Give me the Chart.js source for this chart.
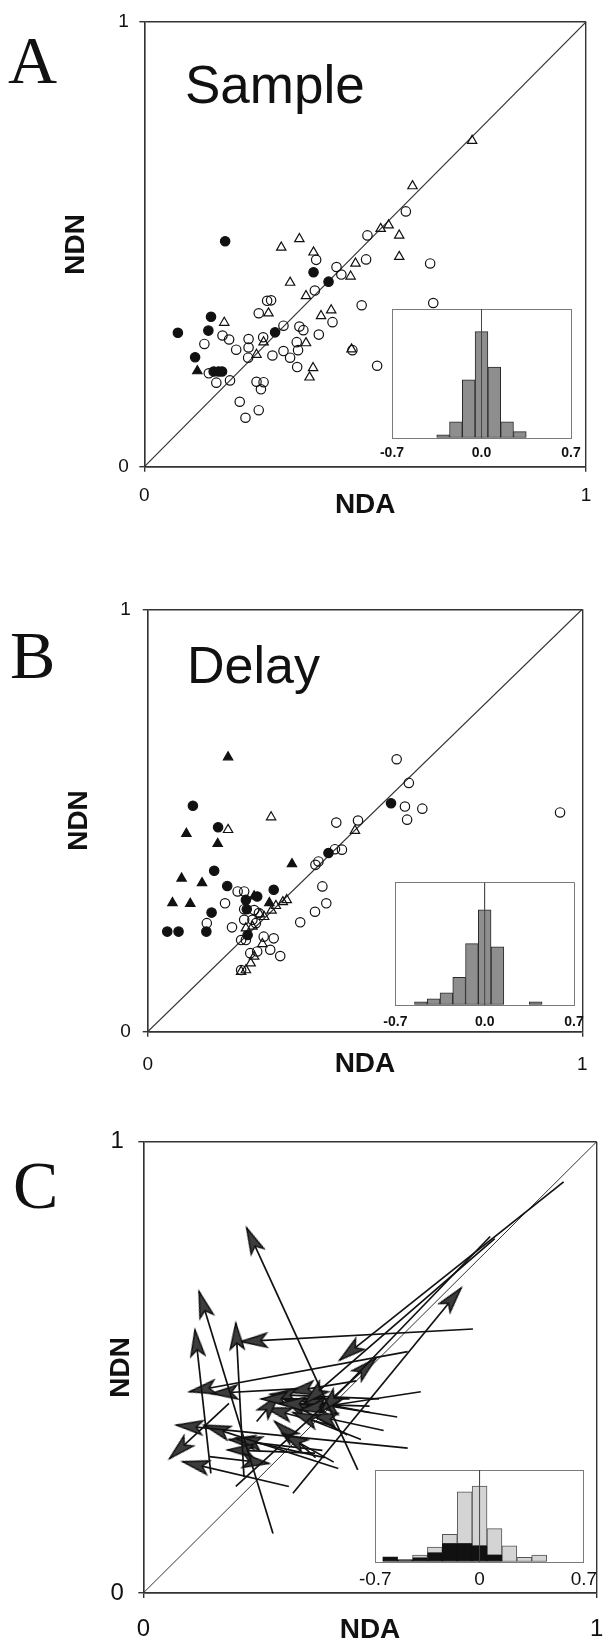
<!DOCTYPE html>
<html>
<head>
<meta charset="utf-8">
<script src="https://cdn.jsdelivr.net/npm/chart.js@4.4.1/dist/chart.umd.min.js"></script>
<style>
html,body{margin:0;padding:0;background:#fff;width:604px;height:1644px;overflow:hidden;position:relative}
canvas{position:absolute;display:block}
.letter{position:absolute;font-family:"Liberation Serif","Times New Roman",serif;font-size:68px;line-height:68px;color:#111;z-index:5;white-space:nowrap}
.phase{position:absolute;font-family:"Liberation Sans",Arial,sans-serif;line-height:1;color:#111;z-index:5;white-space:nowrap}
</style>
</head>
<body>
<canvas id="mainA" width="604" height="540" style="left:0;top:0"></canvas>
<canvas id="insetA" width="220" height="169" style="left:372px;top:299px"></canvas>
<canvas id="mainB" width="604" height="520" style="left:0;top:580px"></canvas>
<canvas id="insetB" width="220" height="163" style="left:375px;top:872px"></canvas>
<canvas id="mainC" width="620" height="544" style="left:0;top:1100px"></canvas>
<canvas id="insetC" width="250" height="132" style="left:353px;top:1460px"></canvas>
<div class="letter" style="left:8px;top:26px">A</div>
<div class="phase" style="left:185px;top:58px;font-size:53px">Sample</div>
<div class="letter" style="left:10px;top:621px">B</div>
<div class="phase" style="left:187px;top:639px;font-size:52px">Delay</div>
<div class="letter" style="left:13px;top:1151px">C</div>
<script>
const FONT = '"Liberation Sans", Arial, Helvetica, sans-serif';
const axisTicks = [0, 1];
const insetTicks = [-0.7, 0, 0.7];

// ---- Panel A : Sample (NDA, NDN) ----
const sampleOpenCircles = [[0.592,0.574],[0.505,0.520],[0.502,0.466],[0.435,0.449],[0.446,0.432],[0.389,0.465],[0.647,0.457],[0.654,0.368],[0.492,0.363],[0.386,0.396],[0.278,0.373],[0.287,0.374],[0.259,0.345],[0.315,0.317],[0.351,0.315],[0.360,0.307],[0.395,0.297],[0.426,0.325],[0.269,0.291],[0.236,0.287],[0.236,0.268],[0.177,0.295],[0.192,0.286],[0.136,0.276],[0.208,0.263],[0.235,0.245],[0.290,0.250],[0.315,0.260],[0.330,0.245],[0.345,0.280],[0.348,0.262],[0.346,0.224],[0.471,0.262],[0.527,0.227],[0.146,0.210],[0.163,0.189],[0.194,0.194],[0.254,0.191],[0.270,0.190],[0.264,0.174],[0.216,0.146],[0.259,0.127],[0.229,0.110]];
const sampleFilledCircles = [[0.183,0.507],[0.383,0.437],[0.417,0.416],[0.151,0.337],[0.145,0.306],[0.076,0.301],[0.115,0.246],[0.157,0.214],[0.168,0.214],[0.176,0.214],[0.296,0.302]];
const sampleOpenTriangles = [[0.742,0.733],[0.607,0.631],[0.535,0.535],[0.553,0.543],[0.577,0.520],[0.577,0.472],[0.351,0.512],[0.310,0.493],[0.383,0.482],[0.478,0.457],[0.467,0.428],[0.330,0.414],[0.366,0.384],[0.281,0.345],[0.181,0.324],[0.400,0.339],[0.423,0.352],[0.270,0.280],[0.254,0.252],[0.366,0.278],[0.469,0.264],[0.382,0.222],[0.374,0.201]];
const sampleFilledTriangles = [[0.120,0.215]];
const sampleBins = [-0.3,-0.2,-0.1,0,0.1,0.2,0.3];
const sampleCounts = [1,5,18,33,22,5,2];

// ---- Panel B : Delay ----
const delayOpenCircles = [[0.573,0.645],[0.601,0.589],[0.592,0.533],[0.632,0.528],[0.597,0.502],[0.949,0.519],[0.434,0.495],[0.484,0.500],[0.431,0.432],[0.447,0.431],[0.386,0.395],[0.393,0.403],[0.402,0.344],[0.411,0.304],[0.385,0.284],[0.351,0.259],[0.207,0.332],[0.222,0.332],[0.178,0.304],[0.136,0.257],[0.194,0.247],[0.222,0.290],[0.245,0.288],[0.256,0.281],[0.222,0.265],[0.241,0.265],[0.249,0.257],[0.215,0.217],[0.226,0.217],[0.267,0.225],[0.290,0.221],[0.282,0.194],[0.305,0.179],[0.236,0.186],[0.252,0.190],[0.215,0.146]];
const delayFilledCircles = [[0.104,0.535],[0.162,0.484],[0.153,0.381],[0.183,0.345],[0.290,0.336],[0.226,0.312],[0.252,0.320],[0.228,0.290],[0.147,0.282],[0.230,0.229],[0.045,0.237],[0.071,0.237],[0.135,0.237],[0.560,0.541],[0.416,0.423]];
const delayOpenTriangles = [[0.284,0.508],[0.185,0.478],[0.477,0.476],[0.320,0.312],[0.311,0.307],[0.295,0.298],[0.285,0.287],[0.268,0.272],[0.258,0.278],[0.241,0.249],[0.226,0.245],[0.264,0.208],[0.245,0.178],[0.237,0.162],[0.226,0.146],[0.215,0.142]];
const delayFilledTriangles = [[0.185,0.650],[0.089,0.469],[0.161,0.445],[0.332,0.397],[0.078,0.363],[0.125,0.352],[0.057,0.305],[0.098,0.303],[0.245,0.321],[0.280,0.305]];
const delayBins = [-0.5,-0.4,-0.3,-0.2,-0.1,0,0.1,0.4];
const delayCounts = [1,2,4,9,20,31,19,1];

// ---- Panel C : change from sample to delay (arrow tail -> head) ----
const arrowTailX = [0.473,0.286,0.149,0.222,0.727,0.927,0.765,0.775,0.330,0.204,0.583,0.612,0.499,0.583,0.430,0.321,0.189,0.146,0.379,0.342,0.400,0.420,0.480,0.455,0.380,0.530,0.395,0.250,0.500,0.560,0.450,0.520,0.420,0.470];
const arrowTailY = [0.273,0.132,0.265,0.257,0.585,0.911,0.790,0.785,0.221,0.236,0.535,0.446,0.414,0.321,0.276,0.236,0.420,0.302,0.310,0.453,0.300,0.290,0.340,0.430,0.300,0.360,0.316,0.380,0.400,0.390,0.350,0.430,0.370,0.470];
const arrowHeadX = [0.228,0.123,0.114,0.204,0.215,0.433,0.390,0.355,0.701,0.513,0.102,0.345,0.300,0.073,0.134,0.087,0.058,0.277,0.186,0.150,0.204,0.306,0.330,0.260,0.290,0.370,0.189,0.300,0.340,0.375,0.310,0.280,0.270,0.320];
const arrowHeadY = [0.809,0.668,0.583,0.598,0.557,0.516,0.400,0.420,0.676,0.520,0.446,0.405,0.420,0.372,0.372,0.291,0.298,0.287,0.317,0.442,0.343,0.354,0.400,0.430,0.380,0.395,0.340,0.440,0.430,0.420,0.430,0.440,0.410,0.445];
const changeBins  = [-0.6,-0.5,-0.4,-0.3,-0.2,-0.1,0,0.1,0.2,0.3,0.4];
const changeBlack = [2.2,1.1,1.75,4,8,8,7,3,0,0,0];
const changeGray  = [0,0,1.25,2.5,4,22.5,26,11.5,7,2,3];

// ---------- helpers ----------
const toPts = arr => arr.map(([x, y]) => ({x, y}));

function markers(pts, style, filled) {
  return {
    type: 'scatter', data: toPts(pts), showLine: false, order: 1,
    pointStyle: style,
    pointRadius: style === 'triangle' ? 5.4 : 4.7,
    pointBorderWidth: 1.2,
    pointBorderColor: '#111',
    pointBackgroundColor: filled ? '#111' : 'rgba(255,255,255,0)'
  };
}

function mainChart(id, g, datasets) {
  return new Chart(document.getElementById(id), {
    type: 'scatter',
    data: {datasets: [
      {type: 'line', data: [{x: 0, y: 0}, {x: 1, y: 1}], borderColor: '#333', borderWidth: g.diag, pointRadius: 0, fill: false, order: 10},
      ...datasets
    ]},
    options: {
      responsive: false, animation: false, devicePixelRatio: 1, events: [],
      layout: {padding: g.pad},
      plugins: {legend: {display: false}, tooltip: {enabled: false}},
      scales: {
        x: {
          type: 'linear', min: 0, max: 1,
          afterBuildTicks: s => { s.ticks = axisTicks.map(v => ({value: v})); },
          afterFit: s => { s.height = g.xh; },
          grid: {color: '#333', lineWidth: 1.4, tickLength: 5, tickColor: '#333', tickWidth: 1.4},
          border: {display: true, color: '#333', width: 1.4},
          ticks: {autoSkip: false, maxRotation: 0, padding: g.xtp, color: '#111', font: {family: FONT, size: g.ts}, callback: v => String(v)},
          title: {display: true, text: 'NDA', color: '#111', font: {family: FONT, size: 28, weight: 'bold', lineHeight: 1}, padding: {top: 0, bottom: 0}}
        },
        y: {
          type: 'linear', min: 0, max: 1,
          afterBuildTicks: s => { s.ticks = axisTicks.map(v => ({value: v})); },
          afterFit: s => { s.width = g.yw; },
          grid: {color: '#333', lineWidth: 1.4, tickLength: 5, tickColor: '#333', tickWidth: 1.4},
          border: {display: true, color: '#333', width: 1.4},
          ticks: {autoSkip: false, padding: g.ytp, color: '#111', font: {family: FONT, size: g.ts}, callback: v => String(v)},
          title: {display: true, text: 'NDN', color: '#111', font: {family: FONT, size: 28, weight: 'bold', lineHeight: 1}, padding: {top: g.ttp, bottom: 0}}
        }
      }
    }
  });
}

function insetChart(id, g, barSets, fmt) {
  return new Chart(document.getElementById(id), {
    type: 'bar',
    data: {datasets: [
      {type: 'line', data: [{x: 0, y: 0}, {x: 0, y: 40}], borderColor: '#444', borderWidth: 1, pointRadius: 0, fill: false, order: 0},
      ...barSets
    ]},
    options: {
      responsive: false, animation: false, devicePixelRatio: 1, events: [],
      layout: {padding: g.pad},
      plugins: {legend: {display: false}, tooltip: {enabled: false}},
      scales: {
        x: {
          type: 'linear', min: -0.7, max: 0.7, offset: false, stacked: true,
          afterBuildTicks: s => { s.ticks = insetTicks.map(v => ({value: v})); },
          afterFit: s => { s.height = 30; },
          grid: {offset: false, drawTicks: false, color: '#7a7a7a', lineWidth: 1},
          border: {display: true, color: '#7a7a7a', width: 1},
          ticks: {autoSkip: false, maxRotation: 0, padding: g.tp, color: '#111', font: {family: FONT, size: g.fs, weight: g.fw}, callback: fmt}
        },
        y: {
          type: 'linear', min: 0, max: 40, stacked: true,
          afterBuildTicks: s => { s.ticks = [{value: 0}, {value: 40}]; },
          afterFit: s => { s.width = 0; },
          grid: {drawTicks: false, color: '#7a7a7a', lineWidth: 1},
          border: {display: true, color: '#7a7a7a', width: 1},
          ticks: {display: false}
        }
      }
    }
  });
}

function bars(bins, vals, fill, stroke) {
  const d = [];
  bins.forEach((b, i) => { if (vals[i] > 0) d.push({x: b, y: vals[i]}); });
  return {type: 'bar', data: d, backgroundColor: fill, borderColor: stroke, borderWidth: 1, borderSkipped: false, barPercentage: 1, categoryPercentage: 1, order: 1};
}

function makeDart() {
  const c = document.createElement('canvas');
  c.width = 56; c.height = 56;
  const g = c.getContext('2d');
  g.beginPath();
  g.moveTo(28, 28); g.lineTo(35, 54); g.lineTo(28, 48); g.lineTo(21, 54); g.closePath();
  g.fillStyle = '#3c3c3c'; g.fill();
  g.lineWidth = 1.4; g.strokeStyle = '#0d0d0d'; g.lineJoin = 'miter'; g.stroke();
  return c;
}
const dart = makeDart();

function arrowSets() {
  return arrowTailX.map((tx, i) => ({
    type: 'scatter', showLine: true, order: 1,
    data: [{x: tx, y: arrowTailY[i]}, {x: arrowHeadX[i], y: arrowHeadY[i]}],
    borderColor: '#111', borderWidth: 1.7, fill: false,
    pointStyle: dart,
    pointRadius: c => c.dataIndex === 1 ? 8 : 0,
    pointRotation: c => {
      const d = c.dataset.data, xs = c.chart.scales.x, ys = c.chart.scales.y;
      const dx = xs.getPixelForValue(d[1].x) - xs.getPixelForValue(d[0].x);
      const dy = ys.getPixelForValue(d[1].y) - ys.getPixelForValue(d[0].y);
      return Math.atan2(dx, -dy) * 180 / Math.PI;
    }
  }));
}

// ---------- Panel A ----------
mainChart('mainA', {pad: {left: 0, top: 19.3, right: 13, bottom: 20.3}, yw: 144.3, xh: 53, xtp: 12.6, ytp: 10.5, ttp: 62.5, ts: 19, diag: 1.2}, [
  markers(sampleFilledCircles, 'circle', true),
  markers(sampleFilledTriangles, 'triangle', true),
  markers(sampleOpenCircles, 'circle', false),
  markers(sampleOpenTriangles, 'triangle', false)
]);
insetChart('insetA', {pad: {left: 20, top: 10, right: 21, bottom: 0}, tp: 6.6, fs: 14, fw: 'bold'},
  [bars(sampleBins, sampleCounts, '#8e8e8e', '#2a2a2a')], v => v.toFixed(1));

// ---------- Panel B ----------
mainChart('mainB', {pad: {left: 0, top: 29.3, right: 11.3, bottom: 21.3}, yw: 147.7, xh: 47, xtp: 16.5, ytp: 12, ttp: 65.5, ts: 19, diag: 1.2}, [
  markers(delayFilledCircles, 'circle', true),
  markers(delayFilledTriangles, 'triangle', true),
  markers(delayOpenCircles, 'circle', false),
  markers(delayOpenTriangles, 'triangle', false)
]);
insetChart('insetB', {pad: {left: 20, top: 10.3, right: 21, bottom: 0}, tp: 8.3, fs: 14, fw: 'bold'},
  [bars(delayBins, delayCounts, '#8e8e8e', '#2a2a2a')], v => v.toFixed(1));

// ---------- Panel C ----------
mainChart('mainC', {pad: {left: 0, top: 41.7, right: 19, bottom: 0}, yw: 143.3, xh: 51, xtp: 16.6, ytp: 14.5, ttp: 107.7, ts: 24, diag: 1}, arrowSets());
insetChart('insetC', {pad: {left: 20.4, top: 10, right: 19, bottom: 0}, tp: 5.9, fs: 19, fw: 'normal'},
  [bars(changeBins, changeBlack, '#111', '#111'), bars(changeBins, changeGray, '#d4d4d4', '#555')], v => String(v));
</script>
</body>
</html>
